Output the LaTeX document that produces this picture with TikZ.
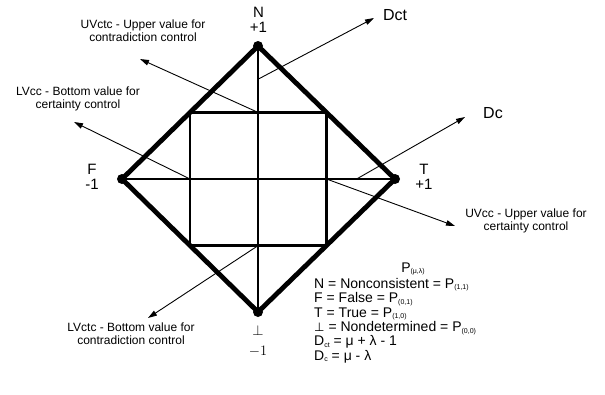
\documentclass[tikz,border=0pt]{standalone}
\usepackage{fontspec}
\setmainfont{Liberation Sans}
\newfontfamily\symfont{DejaVu Sans}
\usepackage{tikz}
\usetikzlibrary{arrows.meta,calc,positioning}
\newcommand{\lsub}[1]{\raisebox{-1.5pt}{\fontsize{7}{7}\selectfont #1}}
\tikzset{
  vertex/.style={circle,fill=black,inner sep=0pt,minimum size=10pt},
  rimline/.style={line width=4.8pt,line join=miter},
  gridline/.style={line width=2.3pt},
  pointer/.style={line width=0.9pt,-{Triangle[length=9pt,width=5.5pt]}},
  notelbl/.style={align=center,font=\fontsize{12}{13}\selectfont,inner sep=0pt},
  polelbl/.style={align=center,font=\fontsize{15}{15}\selectfont,inner sep=0pt},
  axislbl/.style={font=\fontsize{16}{16}\selectfont,inner sep=0pt},
  legendtxt/.style={font=\fontsize{14}{14.4}\selectfont,inner sep=0pt},
}
\begin{document}
\begin{tikzpicture}[x=1pt,y=-1pt]
  \useasboundingbox (0,0) rectangle (605,394);
  \node[vertex] (N) at (258,46) {};
  \node[vertex] (T) at (395,179) {};
  \node[vertex] (B) at (258,312) {};
  \node[vertex] (F) at (122,179) {};
  \coordinate (O) at (258,179);
  \coordinate (NT) at ($(N)!.5!(T)$);
  \coordinate (TB) at ($(T)!.5!(B)$);
  \coordinate (BF) at ($(B)!.5!(F)$);
  \coordinate (FN) at ($(F)!.5!(N)$);
  \coordinate (sqtop) at ($(FN)!.5!(NT)$);
  \coordinate (sqright) at ($(NT)!.5!(TB)$);
  \coordinate (sqbot) at ($(TB)!.5!(BF)$);
  \coordinate (sqleft) at ($(BF)!.5!(FN)$);
  \coordinate (dctfoot) at ($(O)!.75!(N)$);
  \coordinate (dcfoot) at ($(O)!.72!(T)$);
  % thin pointers
  \coordinate (uvctctip) at (140,59);
  \coordinate (lvcctip) at (74,122);
  \coordinate (uvcctip) at (455,226);
  \coordinate (lvctctip) at (148,318);
  \coordinate (dcttip) at (374,18);
  \coordinate (dctip) at (465,117);
  \draw[pointer] (sqtop) -- (uvctctip);
  \draw[pointer] (sqleft) -- (lvcctip);
  \draw[pointer] (sqright) -- (uvcctip);
  \draw[pointer] (sqbot) -- (lvctctip);
  \draw[pointer] (dctfoot) -- (dcttip);
  \draw[pointer] (dcfoot) -- (dctip);
  % lattice
  \draw[gridline] (N.center) -- (B.center);
  \draw[gridline] (F.center) -- (T.center);
  \draw[gridline] (NT) -- (TB) -- (BF) -- (FN) -- cycle;
  \draw[rimline] (N.center) -- (T.center) -- (B.center) -- (F.center) -- cycle;
  % labels
  \node[polelbl] (Nlbl) at (258.5,20) {N\\+1};
  \node[polelbl] (Flbl) at (92,177) {F\\-1};
  \node[polelbl] (Tlbl) at (424,177) {T\\+1};
  \node[polelbl,font=\fontsize{15}{20}\selectfont] (Blbl) at (258,341) {$\perp$\\$-1$};
  \node[axislbl] (dctlbl) at (395,15) {Dct};
  \node[axislbl] (dclbl) at (493,113) {Dc};
  \node[notelbl] (uvctclbl) at (143,31) {UVctc - Upper value for\\contradiction control};
  \node[notelbl] (lvcclbl) at (78,99) {LVcc - Bottom value for\\certainty control};
  \node[notelbl] (uvcclbl) at (526,221) {UVcc - Upper value for\\certainty control};
  \node[notelbl] (lvctclbl) at (131,334) {LVctc - Bottom value for\\contradiction control};
  \node[legendtxt] (phead) at (413,269) {P\lsub{(μ,λ)}};
  \node[legendtxt,align=left,anchor=north west] (legend) at (314,278)
    {N = Nonconsistent = P\lsub{(1,1)}\\
     F = False = P\lsub{(0,1)}\\
     T = True = P\lsub{(1,0)}\\
     {\symfont\fontsize{12}{14}\selectfont ⊥} = Nondetermined = P\lsub{(0,0)}\\
     D\lsub{ct} = μ + λ - 1\\
     D\lsub{c} = μ - λ};
\end{tikzpicture}
\end{document}
